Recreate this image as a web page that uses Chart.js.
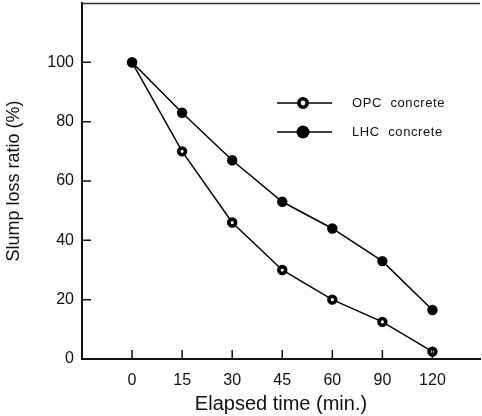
<!DOCTYPE html>
<html>
<head>
<meta charset="utf-8">
<script src="https://cdn.jsdelivr.net/npm/chart.js@4.4.1/dist/chart.umd.min.js"></script>
<style>
html,body{margin:0;padding:0;background:#fff}
#box{width:482px;height:416px}
</style>
</head>
<body>
<div id="box"><canvas id="slumpChart"></canvas></div>
<script>

/* =========================
   DATA
========================= */

let times = ["0","15","30","45","60","90","120"]
let opcValues = [100,70,46,30,20,12.5,2.5]
let lhcValues = [100,83,67,53,44,33,16.5]
let yTicks = [0,20,40,60,80,100]

let fontName = "'Liberation Sans', Arial, sans-serif"

function toPoints(values){
return values.map((v,i)=>({x:i,y:v}))
}

/* =========================
   INWARD TICKS + TOP LINE
========================= */

let innerTicks = {
id:"innerTicks",
afterDraw(c){
let ctx = c.ctx
let a = c.chartArea
let xs = c.scales.x
let ys = c.scales.y
ctx.save()
ctx.strokeStyle = "#111"
ctx.lineWidth = 1.5
ctx.beginPath()
times.forEach((t,i)=>{
let px = xs.getPixelForValue(i)
ctx.moveTo(px,a.bottom)
ctx.lineTo(px,a.bottom-9)
})
yTicks.forEach(v=>{
let py = ys.getPixelForValue(v)
ctx.moveTo(a.left,py)
ctx.lineTo(a.left+9,py)
})
ctx.stroke()

/* top frame line */
ctx.strokeStyle = "#333"
ctx.beginPath()
ctx.moveTo(a.left,a.top+0.5)
ctx.lineTo(a.right,a.top+0.5)
ctx.stroke()
ctx.restore()
}
}

/* =========================
   LEGEND (inside plot)
========================= */

let insideLegend = {
id:"insideLegend",
afterDatasetsDraw(c){
let ctx = c.ctx
let rows = [
{text:"OPC  concrete", y:103, open:true},
{text:"LHC  concrete", y:132, open:false}
]
ctx.save()
rows.forEach(r=>{
ctx.strokeStyle = "#000"
ctx.lineWidth = 1.5
ctx.beginPath()
ctx.moveTo(277,r.y)
ctx.lineTo(332,r.y)
ctx.stroke()
ctx.beginPath()
if(r.open){
ctx.arc(303,r.y,4.2,0,Math.PI*2)
ctx.fillStyle = "#fff"
ctx.fill()
ctx.lineWidth = 3.6
ctx.stroke()
}else{
ctx.arc(303,r.y,6.5,0,Math.PI*2)
ctx.fillStyle = "#000"
ctx.fill()
}
ctx.fillStyle = "#111"
ctx.font = "13px " + fontName
ctx.letterSpacing = "0.6px"
ctx.textBaseline = "middle"
ctx.fillText(r.text,352,r.y)
})
ctx.restore()
}
}

/* =========================
   CHART
========================= */

let ctx = document.getElementById("slumpChart").getContext("2d")

let chart = new Chart(ctx,{
type:"line",
data:{
datasets:[
{
label:"OPC concrete",
data:toPoints(opcValues),
order:1,
borderColor:"#000",
borderWidth:1.5,
pointRadius:3.4,
pointBorderWidth:3.6,
pointBackgroundColor:"#fff",
pointBorderColor:"#000",
tension:0,
fill:false
},
{
label:"LHC concrete",
data:toPoints(lhcValues),
order:0,
borderColor:"#000",
borderWidth:1.5,
pointRadius:5.2,
pointBorderWidth:0,
pointBackgroundColor:"#000",
pointBorderColor:"#000",
tension:0,
fill:false
}
]
},
options:{
responsive:true,
maintainAspectRatio:false,
animation:false,
layout:{autoPadding:false,padding:{top:3,right:2,left:0,bottom:0}},
plugins:{
legend:{display:false},
tooltip:{enabled:false}
},
scales:{
x:{
type:"linear",
min:-1,
max:6.95,
grid:{display:false,drawTicks:false},
border:{display:true,color:"#111",width:2},
ticks:{
autoSkip:false,
maxRotation:0,
padding:12,
color:"#111",
font:{family:fontName,size:16},
callback:v=>(Number.isInteger(v) && v>=0 && v<times.length) ? times[v] : ""
},
afterBuildTicks(s){
s.ticks = times.map((t,i)=>({value:i}))
},
title:{
display:true,
text:"Elapsed time (min.)",
color:"#111",
font:{family:fontName,size:20},
padding:{top:0,bottom:0}
},
afterFit(s){
s.height = 57
s.paddingLeft = 0
s.paddingRight = 0
}
},
y:{
min:0,
max:120,
grid:{display:false,drawTicks:false},
border:{display:true,color:"#111",width:2},
ticks:{
padding:8,
color:"#111",
font:{family:fontName,size:16},
callback:v=>yTicks.includes(v) ? String(v) : ""
},
afterBuildTicks(s){
s.ticks = yTicks.map(v=>({value:v}))
},
title:{
display:true,
text:"Slump loss ratio (%)",
color:"#111",
font:{family:fontName,size:18},
padding:{top:3,bottom:0}
},
afterFit(s){
s.width = 82
s.paddingTop = 0
s.paddingBottom = 0
}
}
}
},
plugins:[innerTicks,insideLegend]
})

</script>
</body>
</html>
